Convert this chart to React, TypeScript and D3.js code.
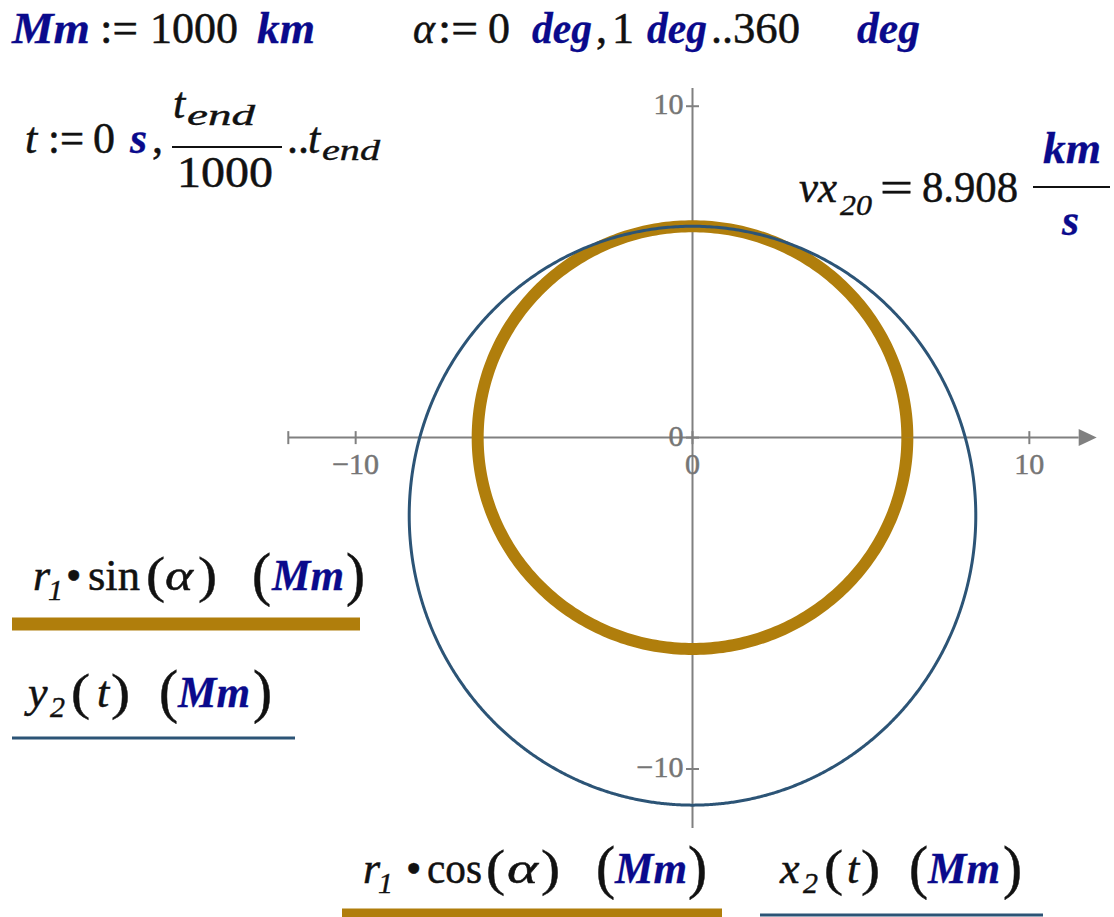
import React, { useMemo } from "react";
import * as d3 from "d3";

const W = 1114;
const H = 917;

// Axis domains and ticks (Mm)
const xDomain = [-12, 12];
const yDomain = [10.55, -11.78];
const xTicks = [-10, 0, 10];
const yTicks = [10, 0, -10];
const xTickLabels = ["−10", "0", "10"];
const yTickLabels = ["10", "0", "−10"];

// Earth radius r1 (Mm), sampled over α := 0 deg, 1 deg .. 360 deg
const r1 = 6.378;
const alphaDeg = d3.range(0, 361, 1);

// Orbit 2: perigee / apogee radii (Mm), sampled over t := 0, t_end/1000 .. t_end
const perigee2 = 6.378;
const apogee2 = 11.09;
const tSteps = d3.range(0, 1001);

const SERIF = "'Liberation Serif', 'Times New Roman', serif";
const INK = "#111111";
const UNIT = "#0a0a8c";
const GOLD = "#b07e0c";
const BLUE = "#2c5476";
const AXIS = "#808080";
const AXIS_TEXT = "#757575";
const FS = 44;
const SUB = 30;

type Kind = "var" | "num" | "unit" | "sub";
type Piece = { s: string; x: number; y: number; k: Kind; w?: number };
type ParenPiece = { s: string; x: number; y: number; sy: number };

const kindStyle = (k: Kind): React.CSSProperties => {
  switch (k) {
    case "var":
      return { fontStyle: "italic", fill: INK, stroke: INK, strokeWidth: 0.5, fontSize: FS };
    case "unit":
      return { fontStyle: "italic", fontWeight: "bold", fill: UNIT, stroke: UNIT, strokeWidth: 0.3, fontSize: FS };
    case "sub":
      return { fontStyle: "italic", fill: INK, stroke: INK, strokeWidth: 0.4, fontSize: SUB };
    default:
      return { fill: INK, stroke: INK, strokeWidth: 0.5, fontSize: FS };
  }
};

// Math region text pieces
const pieces: Piece[] = [
  // Mm := 1000 km
  { s: "Mm", x: 12, y: 43, k: "unit", w: 78 },
  { s: ":=", x: 100, y: 43, k: "num", w: 38 },
  { s: "1000", x: 150, y: 43, k: "num", w: 88 },
  { s: "km", x: 257, y: 43, k: "unit", w: 58 },
  // α := 0 deg, 1 deg .. 360 deg
  { s: "α", x: 413, y: 43, k: "var", w: 22 },
  { s: ":=", x: 438, y: 43, k: "num", w: 40 },
  { s: "0", x: 488, y: 43, k: "num" },
  { s: "deg", x: 532, y: 43, k: "unit", w: 60 },
  { s: ",", x: 596, y: 43, k: "num" },
  { s: "1", x: 612, y: 43, k: "num" },
  { s: "deg", x: 647, y: 43, k: "unit", w: 60 },
  { s: "..", x: 711, y: 43, k: "num" },
  { s: "360", x: 733, y: 43, k: "num", w: 67 },
  { s: "deg", x: 857, y: 43, k: "unit", w: 63 },
  // t := 0 s, t_end/1000 .. t_end
  { s: "t", x: 25, y: 153, k: "var" },
  { s: ":=", x: 48, y: 153, k: "num", w: 36 },
  { s: "0", x: 93, y: 153, k: "num" },
  { s: "s", x: 130, y: 153, k: "unit" },
  { s: ",", x: 152, y: 153, k: "num" },
  { s: "t", x: 173, y: 118, k: "var" },
  { s: "end", x: 187, y: 125, k: "sub", w: 68 },
  { s: "1000", x: 177, y: 187, k: "num", w: 96 },
  { s: "..", x: 287, y: 153, k: "num" },
  { s: "t", x: 308, y: 153, k: "var" },
  { s: "end", x: 322, y: 160, k: "sub", w: 58 },
  // vx20 = 8.908 km/s
  { s: "vx", x: 799, y: 202, k: "var", w: 38 },
  { s: "20", x: 840, y: 215, k: "sub", w: 32 },
  { s: "=", x: 880, y: 202, k: "num", w: 33 },
  { s: "8.908", x: 922, y: 202, k: "num", w: 96 },
  { s: "km", x: 1043, y: 163, k: "unit", w: 58 },
  { s: "s", x: 1062, y: 235, k: "unit" },
  // r1 • sin(α) (Mm)
  { s: "r", x: 33, y: 590, k: "var" },
  { s: "1", x: 48, y: 600, k: "sub" },
  { s: "•", x: 66, y: 590, k: "num" },
  { s: "sin", x: 88, y: 590, k: "num", w: 52 },
  { s: "α", x: 165, y: 590, k: "var", w: 28 },
  { s: "Mm", x: 272, y: 590, k: "unit", w: 72 },
  // y2(t) (Mm)
  { s: "y", x: 28, y: 707, k: "var" },
  { s: "2", x: 50, y: 717, k: "sub" },
  { s: "t", x: 97, y: 707, k: "var" },
  { s: "Mm", x: 178, y: 707, k: "unit", w: 72 },
  // r1 • cos(α) (Mm)
  { s: "r", x: 363, y: 883, k: "var" },
  { s: "1", x: 378, y: 893, k: "sub" },
  { s: "•", x: 406, y: 883, k: "num" },
  { s: "cos", x: 427, y: 883, k: "num", w: 55 },
  { s: "α", x: 507, y: 883, k: "var", w: 31 },
  { s: "Mm", x: 615, y: 883, k: "unit", w: 72 },
  // x2(t) (Mm)
  { s: "x", x: 780, y: 883, k: "var" },
  { s: "2", x: 803, y: 893, k: "sub" },
  { s: "t", x: 847, y: 883, k: "var" },
  { s: "Mm", x: 928, y: 883, k: "unit", w: 72 },
];

// Stretched brackets
const parens: ParenPiece[] = [
  { s: "(", x: 146, y: 590, sy: 1.15 },
  { s: ")", x: 198, y: 590, sy: 1.15 },
  { s: "(", x: 252, y: 590, sy: 1.33 },
  { s: ")", x: 346, y: 590, sy: 1.33 },
  { s: "(", x: 71, y: 707, sy: 1.15 },
  { s: ")", x: 111, y: 707, sy: 1.15 },
  { s: "(", x: 159, y: 707, sy: 1.33 },
  { s: ")", x: 253, y: 707, sy: 1.33 },
  { s: "(", x: 486, y: 883, sy: 1.15 },
  { s: ")", x: 541, y: 883, sy: 1.15 },
  { s: "(", x: 596, y: 883, sy: 1.33 },
  { s: ")", x: 688, y: 883, sy: 1.33 },
  { s: "(", x: 824, y: 883, sy: 1.15 },
  { s: ")", x: 861, y: 883, sy: 1.15 },
  { s: "(", x: 909, y: 883, sy: 1.33 },
  { s: ")", x: 1003, y: 883, sy: 1.33 },
];

// Fraction bars
const fractionBars = [
  { x1: 172, x2: 282, y: 147 },
  { x1: 1033, x2: 1110, y: 187 },
];

export default function App() {
  const x = d3.scaleLinear().domain(xDomain).range([288.3, 1096.7]);
  const y = d3.scaleLinear().domain(yDomain).range([88, 828]);

  const { earthPath, orbitPath } = useMemo(() => {
    const line = d3
      .line<[number, number]>()
      .x((d) => x(d[0]))
      .y((d) => y(d[1]));

    const earth: [number, number][] = alphaDeg.map((a) => {
      const r = (a * Math.PI) / 180;
      return [r1 * Math.cos(r), r1 * Math.sin(r)];
    });

    // Kepler orbit with perigee straight up, moving toward +x
    const a = (perigee2 + apogee2) / 2;
    const e = (apogee2 - perigee2) / (apogee2 + perigee2);
    const b = Math.sqrt(perigee2 * apogee2);
    const orbit: [number, number][] = tSteps.map((i) => {
      const M = (2 * Math.PI * i) / (tSteps.length - 1);
      let E = M;
      for (let k = 0; k < 12; k++) E -= (E - e * Math.sin(E) - M) / (1 - e * Math.cos(E));
      return [b * Math.sin(E), perigee2 - a + a * Math.cos(E)];
    });
    return { earthPath: line(earth) || "", orbitPath: line(orbit) || "" };
  }, []);

  const x0 = x(0);
  const y0 = y(0);
  const xEnd = x(xDomain[1]);
  const arrowLen = 18;
  const tick = 6.5;

  return (
    <div style={{ position: "absolute", left: 0, top: 0 }}>
      <svg width={W} height={H} style={{ display: "block", background: "#ffffff" }} fontFamily={SERIF}>
        <rect width={W} height={H} fill="#ffffff" />

        {/* axes */}
        <g stroke={AXIS} strokeWidth={2} fill="none">
          <line x1={x(xDomain[0])} x2={xEnd - arrowLen} y1={y0} y2={y0} />
          <line x1={x0} x2={x0} y1={y(yDomain[0])} y2={y(yDomain[1])} />
          <line x1={x(xDomain[0])} x2={x(xDomain[0])} y1={y0 - tick} y2={y0 + tick} />
          {xTicks.map((t) => (
            <line key={"xt" + t} x1={x(t)} x2={x(t)} y1={y0 - tick} y2={y0 + tick} />
          ))}
          {yTicks.map((t) => (
            <line key={"yt" + t} x1={x0 - tick} x2={x0 + tick} y1={y(t)} y2={y(t)} />
          ))}
        </g>
        <path
          d={`M${xEnd},${y0} L${xEnd - arrowLen},${y0 - 8.5} L${xEnd - arrowLen},${y0 + 8.5} Z`}
          fill={AXIS}
        />
        <g fill={AXIS_TEXT} stroke={AXIS_TEXT} strokeWidth={0.5} fontSize={30}>
          {xTicks.map((t, i) => (
            <text key={"xl" + t} x={x(t)} y={y0 + 36} textAnchor="middle">
              {xTickLabels[i]}
            </text>
          ))}
          {yTicks.map((t, i) => (
            <text key={"yl" + t} x={x0 - 9} y={y(t) + 8} textAnchor="end">
              {yTickLabels[i]}
            </text>
          ))}
        </g>

        {/* traces */}
        <path d={earthPath} fill="none" stroke={GOLD} strokeWidth={12} />
        <path d={orbitPath} fill="none" stroke={BLUE} strokeWidth={3} />

        {/* math text */}
        {pieces.map((p, i) => (
          <text
            key={"p" + i}
            x={p.x}
            y={p.y}
            style={kindStyle(p.k)}
            textLength={p.w}
            lengthAdjust={p.w ? "spacingAndGlyphs" : undefined}
          >
            {p.s}
          </text>
        ))}
        {parens.map((p, i) => (
          <text
            key={"q" + i}
            transform={`translate(${p.x},${p.y - 11}) scale(1.3,${p.sy})`}
            x={0}
            y={11}
            style={{ fill: INK, stroke: INK, strokeWidth: 0.4, fontSize: FS }}
          >
            {p.s}
          </text>
        ))}
        {fractionBars.map((f, i) => (
          <line key={"f" + i} x1={f.x1} x2={f.x2} y1={f.y} y2={f.y} stroke={INK} strokeWidth={2.2} />
        ))}

        {/* legend swatches */}
        <line x1={12} x2={360} y1={624} y2={624} stroke={GOLD} strokeWidth={13} />
        <line x1={12} x2={295} y1={738} y2={738} stroke={BLUE} strokeWidth={3} />
        <line x1={342} x2={722} y1={915} y2={915} stroke={GOLD} strokeWidth={13} />
        <line x1={760} x2={1043} y1={915} y2={915} stroke={BLUE} strokeWidth={3} />
      </svg>
    </div>
  );
}
